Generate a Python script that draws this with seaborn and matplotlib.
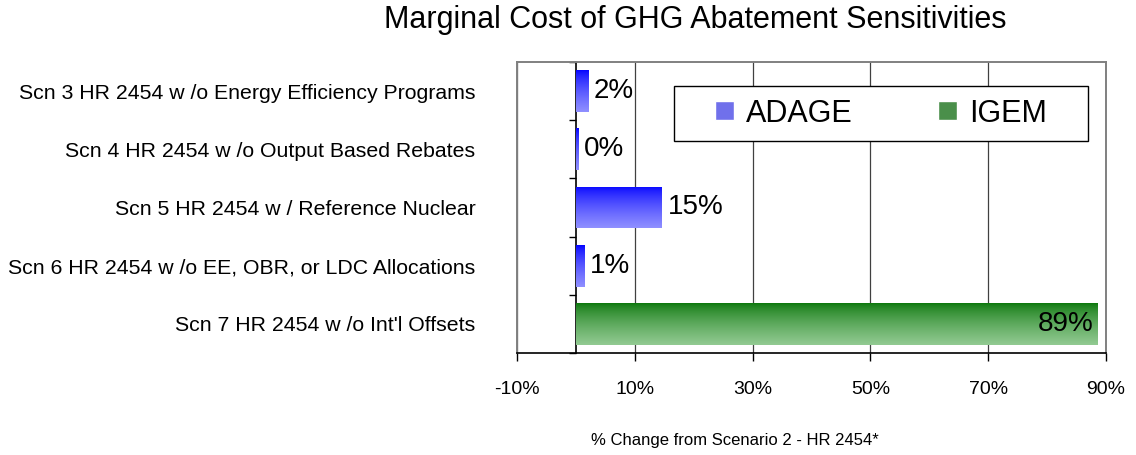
import matplotlib.pyplot as plt
import matplotlib.colors as mcolors
from matplotlib.patches import Rectangle
import seaborn as sns
import numpy as np
import pandas as pd

# data
scenarios = ["Scn 3 HR 2454 w /o Energy Efficiency Programs",
             "Scn 4 HR 2454 w /o Output Based Rebates",
             "Scn 5 HR 2454 w / Reference Nuclear",
             "Scn 6 HR 2454 w /o EE, OBR, or LDC Allocations",
             "Scn 7 HR 2454 w /o Int'l Offsets"]
models = ["ADAGE", "ADAGE", "ADAGE", "ADAGE", "IGEM"]
pct_change = [2.1, 0.4, 14.6, 1.4, 88.6]
model_order = ["ADAGE", "IGEM"]
xticks = [-10, 10, 30, 50, 70, 90]

df = pd.DataFrame({"scenario": scenarios, "model": models, "pct": pct_change})

sns.set_style('white')
plt.rcParams['font.family'] = ['Liberation Sans', 'DejaVu Sans']
plt.rcParams['text.color'] = 'black'
plt.rcParams['axes.labelcolor'] = 'black'
plt.rcParams['xtick.color'] = 'black'
plt.rcParams['ytick.color'] = 'black'

W, H = 1136, 455
fig = plt.figure(figsize=(W/100, H/100), dpi=100)
ax = fig.add_axes([517/W, 1-353/H, (1106-517)/W, (353-62)/H])

# solid colours used for legend, gradients drawn over the bars
palette = {"ADAGE": "#5c5cff", "IGEM": "#3f9a3f"}
grads = {"ADAGE": ("#0000ff", "#9090ff"), "IGEM": ("#0a760a", "#92ca92")}

sns.barplot(data=df, x="pct", y="scenario", hue="model", hue_order=model_order,
            dodge=False, width=0.72, palette=palette, ax=ax)

ramp = np.linspace(0, 1, 256) ** 0.7
for cont, m in zip(ax.containers, model_order):
    cmap = mcolors.LinearSegmentedColormap.from_list(m, grads[m])
    for p in cont:
        p.set_edgecolor('none')
        bb = p.get_bbox()
        im = ax.imshow(ramp.reshape(-1, 1), cmap=cmap, aspect='auto',
                       extent=[bb.x0, bb.x1, max(bb.y0, bb.y1), min(bb.y0, bb.y1)],
                       origin='upper', zorder=p.get_zorder()+0.1, interpolation='bilinear')
        im.set_clip_path(p)
        w = p.get_width()
        yc = (bb.y0 + bb.y1) / 2
        if w > 50:
            ax.annotate(f"{w:.0f}%", (w, yc), xytext=(-3, 0), textcoords='offset points',
                        ha='right', va='center', fontsize=20, zorder=6)
        else:
            ax.annotate(f"{w:.0f}%", (w, yc), xytext=(4, 0), textcoords='offset points',
                        ha='left', va='center', fontsize=20, zorder=6)

ax.set_xlim(-10, 90)
ax.set_ylim(4.5, -0.5)
ax.set_xticks(xticks)
ax.set_xticklabels([f"{t}%" for t in xticks], fontsize=14)
ax.tick_params(axis='x', length=6, width=1, color='black', pad=14, direction='out', bottom=True)
ax.tick_params(axis='y', length=0, pad=30, labelsize=15.3)
ax.set_ylabel("")
ax.grid(axis='x', color='#404040', linewidth=0.9)
ax.set_axisbelow(True)

for s in ['left', 'top', 'right']:
    ax.spines[s].set_color('#808080')
    ax.spines[s].set_linewidth(1.4)
ax.spines['bottom'].set_color('black')
ax.spines['bottom'].set_linewidth(1.2)

# zero line with category separators
sec = ax.secondary_yaxis((0 - (-10)) / 100)
sec.set_yticks(np.arange(-0.5, 5, 1))
sec.set_yticklabels([])
sec.tick_params(length=5, width=1, color='black')
sec.spines['left'].set_color('black')
sec.spines['left'].set_linewidth(1.2)

ax.set_xlabel("% Change from Scenario 2 - HR 2454*", fontsize=12)
ax.xaxis.set_label_coords((735-517)/(1106-517), (353-441)/(353-62))
ax.xaxis.label.set_va('center')

# legend box
ax.add_patch(Rectangle((674/W, 1-141/H), 414/W, 55/H, transform=fig.transFigure,
                       facecolor='white', edgecolor='black', linewidth=1.0,
                       zorder=4, clip_on=False))
handles, labels = ax.get_legend_handles_labels()
leg = ax.legend(handles, labels, ncol=2, loc='center',
                bbox_to_anchor=(881/W, 1-113.5/H), bbox_transform=fig.transFigure,
                fontsize=22, frameon=False,
                handlelength=0.6, handleheight=0.6, handletextpad=0.4,
                columnspacing=2.8, borderpad=0, borderaxespad=0)
leg.set_zorder(5)

fig.text(695/W, 1-20/H, "Marginal Cost of GHG Abatement Sensitivities",
         ha='center', va='center', fontsize=22)

fig.savefig("out.png", dpi=100)
